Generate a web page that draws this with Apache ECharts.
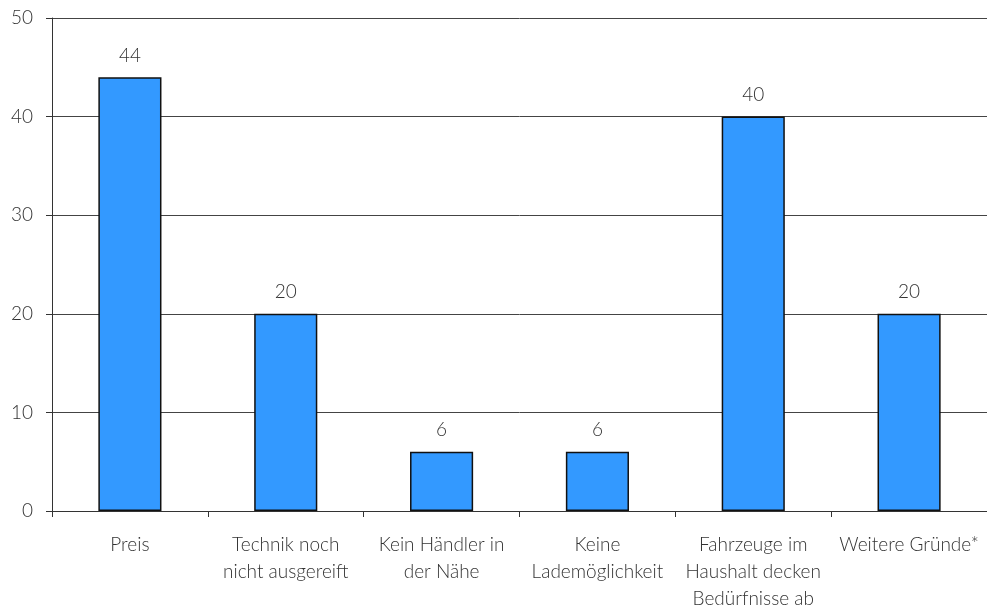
<!DOCTYPE html>
<html>
<head>
<meta charset="utf-8">
<script src="https://cdn.jsdelivr.net/npm/echarts@6/dist/echarts.min.js"></script>
<style>
html,body{margin:0;padding:0;background:#fff;}
#chart{width:987px;height:610px;}
</style>
</head>
<body>
<div id="chart"></div>
<script>
// Reasons against buying an electric car (percent)
const categories = [
  'Preis',
  'Technik noch\nnicht ausgereift',
  'Kein Händler in\nder Nähe',
  'Keine\nLademöglichkeit',
  'Fahrzeuge im\nHaushalt decken\nBedürfnisse ab',
  'Weitere Gründe*'
];
const values = [44, 20, 6, 6, 40, 20];
const yTicks = { min: 0, max: 50, interval: 10 };

const FONT = 'Lato, "Open Sans", sans-serif';
const chart = echarts.init(document.getElementById('chart'));
chart.setOption({
  animation: false,
  grid: { left: 52, right: 0, top: 18, bottom: 99, containLabel: false, outerBoundsMode: 'none' },
  xAxis: {
    type: 'category',
    data: categories,
    axisLine: { lineStyle: { color: '#333', width: 1 } },
    axisTick: { show: true, length: 6, lineStyle: { color: '#333' } },
    axisLabel: {
      interval: 0, margin: 20, color: '#333', fontFamily: FONT, fontSize: 19,
      fontWeight: 300, lineHeight: 27
    },
    splitLine: { show: false }
  },
  yAxis: {
    type: 'value',
    min: yTicks.min, max: yTicks.max, interval: yTicks.interval,
    axisLine: { show: true, lineStyle: { color: '#333', width: 1 } },
    axisTick: { show: true, length: 6, lineStyle: { color: '#333' } },
    axisLabel: { margin: 19, color: '#333', fontFamily: FONT, fontSize: 19, fontWeight: 300 },
    splitLine: { show: true, lineStyle: { color: '#444', width: 1 } }
  },
  series: [{
    type: 'bar',
    data: values,
    barWidth: '40.5%',
    itemStyle: { color: '#3399FF', borderColor: '#111', borderWidth: 1.5 },
    label: {
      show: true, position: 'top', distance: 12, color: '#333',
      fontFamily: FONT, fontSize: 19, fontWeight: 300
    }
  }]
});
</script>
</body>
</html>
